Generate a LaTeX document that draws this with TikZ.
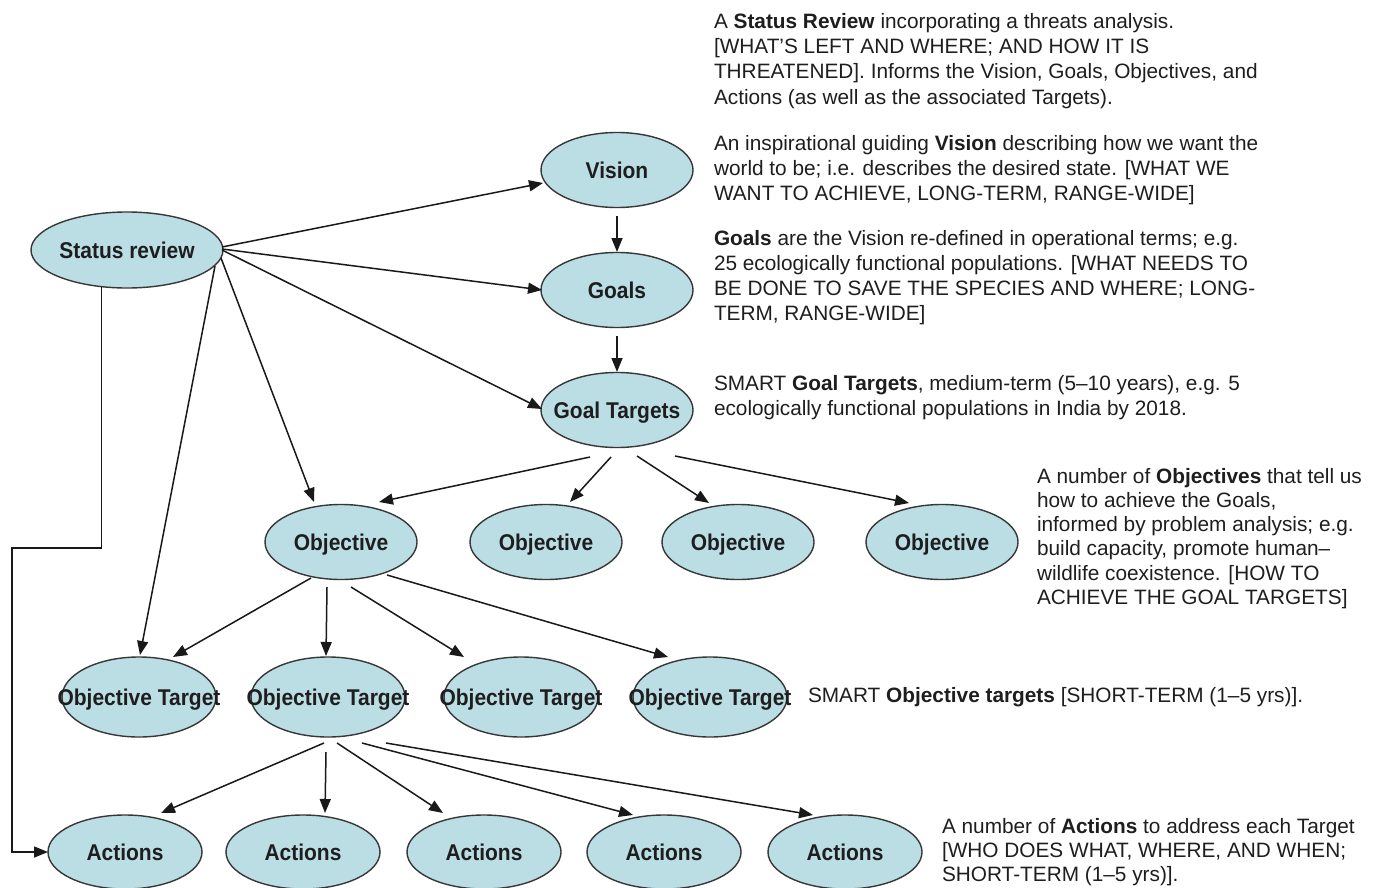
\documentclass[tikz,border=0pt]{standalone}
\usepackage{fontspec}
\setmainfont{Liberation Sans}
\newfontfamily\nodefont{Liberation Sans}[FakeStretch=0.92]
\usetikzlibrary{arrows.meta,calc,shapes.geometric}
\definecolor{ellfill}{RGB}{187,222,229}
\definecolor{ellline}{RGB}{55,55,55}
\definecolor{txt}{RGB}{30,30,30}
\definecolor{arrc}{RGB}{25,25,25}
\newcommand{\nlab}[1]{\makebox[0pt][c]{#1}}
\begin{document}
\begin{tikzpicture}[x=0.5pt,y=-0.5pt,
  oval/.style={ellipse, draw=ellline, line width=0.7pt, fill=ellfill, inner sep=0pt, outer sep=0pt,
    minimum width=76pt, minimum height=37.5pt, text height=8.1pt, text depth=0pt,
    font=\nodefont\bfseries\fontsize{11.4pt}{13pt}\selectfont, text=txt},
  bigoval/.style={oval, minimum width=96pt, minimum height=38pt},
  otoval/.style={oval, minimum width=77pt, minimum height=40pt},
  actoval/.style={oval, minimum width=77pt, minimum height=37pt},
  arr/.style={draw=arrc, line width=0.75pt, -{Triangle[length=7pt,width=5.5pt]}},
  desc/.style={anchor=north west, inner sep=0pt, outer sep=0pt, align=left, text=txt}]
\fill[white] (0,0) rectangle (1381,888);
\useasboundingbox (0,0) rectangle (1381,888);

% nodes
\node[bigoval] (SR) at (127,250) {\nlab{Status review}};
\node[oval] (V) at (617,170) {\nlab{Vision}};
\node[oval] (G) at (617,290) {\nlab{Goals}};
\node[oval] (GT) at (617,410) {\nlab{Goal Targets}};
\node[oval] (O1) at (341,542) {\nlab{Objective}};
\node[oval] (O2) at (546,542) {\nlab{Objective}};
\node[oval] (O3) at (738,542) {\nlab{Objective}};
\node[oval] (O4) at (942,542) {\nlab{Objective}};
\node[otoval] (OT1) at (139,697) {\nlab{Objective Target}};
\node[otoval] (OT2) at (328,697) {\nlab{Objective Target}};
\node[otoval] (OT3) at (521,697) {\nlab{Objective Target}};
\node[otoval] (OT4) at (710,697) {\nlab{Objective Target}};
\node[actoval] (A1) at (125,852) {\nlab{Actions}};
\node[actoval] (A2) at (303,852) {\nlab{Actions}};
\node[actoval] (A3) at (484,852) {\nlab{Actions}};
\node[actoval] (A4) at (664,852) {\nlab{Actions}};
\node[actoval] (A5) at (845,852) {\nlab{Actions}};

% connectors from status review
\draw[arr] ($(SR)+(95,-3)$) -- ($(V)+(-74,13)$);
\draw[arr] ($(SR)+(95,-1)$) -- ($(G)+(-75,0)$);
\draw[arr] ($(SR)+(95,0)$) -- ($(GT)+(-75,-1)$);
\draw[arr] ($(SR)+(94,8)$) -- ($(O1)+(-27,-40)$);
\draw[arr] ($(SR)+(88,16)$) -- ($(OT1)+(1,-42)$);
\coordinate (bend) at (12,548);
\draw[arr] (SR.-125) |- (bend) |- (A1.west);

% vertical chain
\draw[arr] ($(V)+(0,46)$) -- ($(G)+(0,-38)$);
\draw[arr] ($(G)+(0,46)$) -- ($(GT)+(0,-38)$);

% goal targets to objectives
\draw[arr] ($(GT)+(-27,47)$) -- ($(O1)+(38,-40)$);
\draw[arr] ($(GT)+(-6,47)$) -- ($(O2)+(24,-40)$);
\draw[arr] ($(GT)+(20,46)$) -- ($(O3)+(-29,-39)$);
\draw[arr] ($(GT)+(58,46)$) -- ($(O4)+(-33,-39)$);

% objective to objective targets
\draw[arr] ($(O1)+(-30,36)$) -- ($(OT1)+(34,-40)$);
\draw[arr] ($(O1)+(-14,45)$) -- ($(OT2)+(-2,-41)$);
\draw[arr] ($(O1)+(10,45)$) -- ($(OT3)+(-57,-40)$);
\draw[arr] ($(O1)+(46,33)$) -- ($(OT4)+(-42,-40)$);

% objective target to actions
\draw[arr] ($(OT2)+(-4,46)$) -- ($(A1)+(36,-39)$);
\draw[arr] ($(OT2)+(-2,55)$) -- ($(A2)+(22,-39)$);
\draw[arr] ($(OT2)+(9,46)$) -- ($(A3)+(-41,-39)$);
\draw[arr] ($(OT2)+(34,46)$) -- ($(A4)+(-31,-37)$);
\draw[arr] ($(OT2)+(58,46)$) -- ($(A5)+(-32,-37)$);

% description texts
\node[desc, font=\fontsize{10.4pt}{12.6pt}\selectfont] (t1) at (714,10.9)
 {\strut A \textbf{Status Review} incorporating a threats analysis.\\
  {[}WHAT'S LEFT AND WHERE; AND HOW IT IS\\
  THREATENED]. Informs the Vision, Goals, Objectives, and\\
  Actions (as well as the associated Targets).};
\node[desc, font=\fontsize{10.4pt}{12.5pt}\selectfont] (t2) at (714,132.5)
 {\strut An inspirational guiding \textbf{Vision} describing how we want the\\
  world to be; i.e. describes the desired state. [WHAT WE\\
  WANT TO ACHIEVE, LONG-TERM, RANGE-WIDE]};
\node[desc, font=\fontsize{10.4pt}{12.5pt}\selectfont] (t3) at (714,227.5)
 {\strut\textbf{Goals} are the Vision re-defined in operational terms; e.g.\\
  25 ecologically functional populations. [WHAT NEEDS TO\\
  BE DONE TO SAVE THE SPECIES AND WHERE; LONG-\\
  TERM, RANGE-WIDE]};
\node[desc, font=\fontsize{10.4pt}{12.5pt}\selectfont] (t4) at (714,372.5)
 {\strut SMART \textbf{Goal Targets}, medium-term (5–10 years), e.g. 5\\
  ecologically functional populations in India by 2018.};
\node[desc, font=\fontsize{10.4pt}{12.15pt}\selectfont] (t5) at (1037,466)
 {\strut A number of \textbf{Objectives} that tell us\\
  how to achieve the Goals,\\
  informed by problem analysis; e.g.\\
  build capacity, promote human–\\
  wildlife coexistence. [HOW TO\\
  ACHIEVE THE GOAL TARGETS]};
\node[desc, font=\fontsize{10.4pt}{12.5pt}\selectfont] (t6) at (808,684.5)
 {\strut SMART \textbf{Objective targets} [SHORT-TERM (1–5 yrs)].};
\node[desc, font=\fontsize{10.4pt}{12pt}\selectfont] (t7) at (942,817)
 {\strut A number of \textbf{Actions} to address each Target\\
  {[}WHO DOES WHAT, WHERE, AND WHEN;\\
  SHORT-TERM (1–5 yrs)].};
\end{tikzpicture}
\end{document}
